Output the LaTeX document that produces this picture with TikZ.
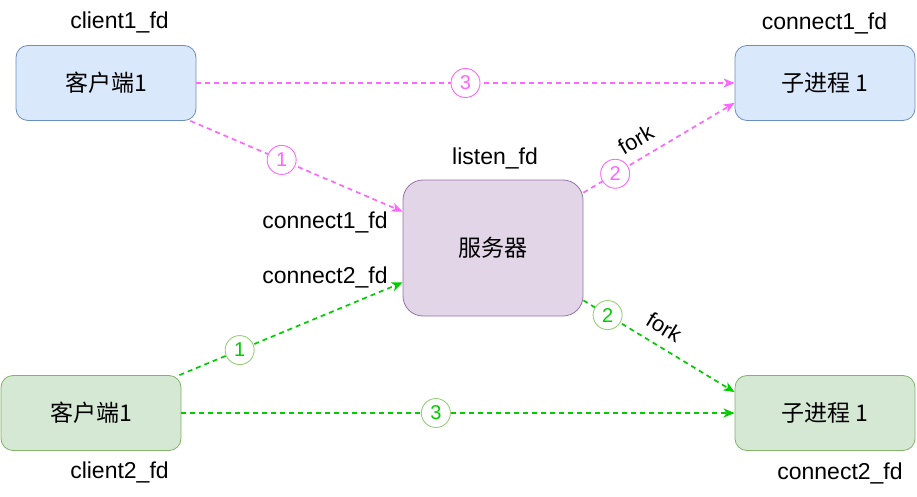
\documentclass[tikz,border=0pt]{standalone}
\usepackage{fontspec}
\setmainfont{Liberation Sans}
\newfontfamily\cjk{Noto Sans CJK SC}
\usepackage{tikz}
\usetikzlibrary{arrows.meta, positioning, calc}
\definecolor{clientBlue}{HTML}{DAE8FC}
\definecolor{clientBlueLine}{HTML}{6C8EBF}
\definecolor{serverPurple}{HTML}{E1D5E7}
\definecolor{serverPurpleLine}{HTML}{9673A6}
\definecolor{clientGreen}{HTML}{D5E8D4}
\definecolor{clientGreenLine}{HTML}{82B366}
\definecolor{flowPink}{HTML}{FF66FF}
\definecolor{flowGreen}{HTML}{00CC00}
\definecolor{stepGreenLine}{HTML}{97D077}

\begin{document}
\begin{tikzpicture}[
  x=1pt, y=-1pt,
  proc/.style={rectangle, rounded corners=12pt, line width=0.8pt, minimum width=180pt, minimum height=75pt, text centered, font=\fontsize{23}{27}\selectfont\cjk},
  blueBox/.style={proc, fill=clientBlue, draw=clientBlueLine},
  greenBox/.style={proc, fill=clientGreen, draw=clientGreenLine},
  serverBox/.style={proc, fill=serverPurple, draw=serverPurpleLine, rounded corners=20pt, minimum height=136pt},
  fdLabel/.style={inner sep=0pt, font=\fontsize{23}{27}\selectfont},
  flow/.style={line width=1.7pt, dash pattern=on 5pt off 4pt, -{Stealth[length=11pt, width=9pt, inset=3pt]}},
  pinkFlow/.style={flow, draw=flowPink},
  greenFlow/.style={flow, draw=flowGreen},
  stepNum/.style={circle, solid, fill=white, line width=0.9pt, minimum size=29pt, inner sep=0pt, font=\fontsize{20}{24}\selectfont},
  stepPink/.style={stepNum, draw=flowPink, text=flowPink},
  stepGreen/.style={stepNum, draw=stepGreenLine, text=flowGreen},
  forkLabel/.style={sloped, above=10pt, inner sep=0pt, text=black, font=\fontsize{22}{26}\selectfont}
]
  \useasboundingbox (0,0) rectangle (917,497);

  % Clients and children
  \node[blueBox] (client1) at (106,83) {客户端1};
  \node[blueBox] (child1) at (825,83) {子进程 1};
  \node[greenBox] (client2) at (91,413) {客户端1};
  \node[greenBox] (child2) at (825,413) {子进程 1};

  % Server
  \node[serverBox] (server) at (493,248) {服务器};

  % fd labels
  \node[fdLabel] (c1fd) at (119.5,22) {client1\_fd};
  \node[fdLabel] (k1fd) at (824.5,23) {connect1\_fd};
  \node[fdLabel] (lfd) at (495,158) {listen\_fd};
  \node[fdLabel] (s1fd) at (325,222) {connect1\_fd};
  \node[fdLabel] (s2fd) at (325,277) {connect2\_fd};
  \node[fdLabel] (c2fd) at (119.5,472) {client2\_fd};
  \node[fdLabel] (k2fd) at (840,473) {connect2\_fd};

  % Connections: client 1
  \draw[pinkFlow] ($(client1.south east)+(-6,0)$) -- node[stepPink, pos=0.43] (p1) {1} ($(server.north west)+(0,32)$);
  \draw[pinkFlow] ($(server.north east)+(0,13)$) -- node[stepPink, pos=0.21] (p2) {2} node[forkLabel, pos=0.41] (pfork) {fork} ($(child1.south west)+(0,-18)$);
  \draw[pinkFlow] (client1.east) -- node[stepPink, pos=0.5] (p3) {3} (child1.west);

  % Connections: client 2
  \draw[greenFlow] ($(client2.north east)+(-2,0)$) -- node[stepGreen, pos=0.27] (g1) {1} ($(server.south west)+(0,-34)$);
  \draw[greenFlow] ($(server.south east)+(0,-16)$) -- node[stepGreen, pos=0.16] (g2) {2} node[forkLabel, pos=0.47] (gfork) {fork} ($(child2.north west)+(0,17)$);
  \draw[greenFlow] (client2.east) -- node[stepGreen, pos=0.46] (g3) {3} (child2.west);

\end{tikzpicture}
\end{document}
